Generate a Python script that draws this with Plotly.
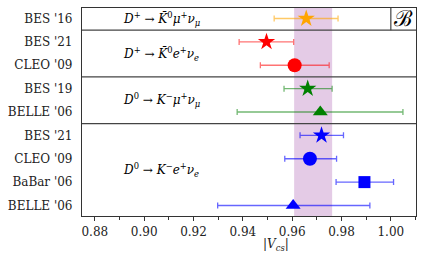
import plotly.graph_objects as go

# Data
labels = ["BES '16", "BES '21", "CLEO '09", "BES '19", "BELLE '06",
          "BES '21", "CLEO '09", "BaBar '06", "BELLE '06"]
vcs = [0.9657, 0.9496, 0.9610, 0.9663, 0.9714, 0.9719, 0.9672, 0.9893, 0.9604]
err_lo = [0.0130, 0.0111, 0.0139, 0.0096, 0.0337, 0.0087, 0.0102, 0.0115, 0.0306]
err_hi = [0.0129, 0.0110, 0.0140, 0.0099, 0.0335, 0.0089, 0.0108, 0.0118, 0.0311]
marker_symbols = ["star", "star", "circle", "star", "triangle-up",
                  "star", "circle", "square", "triangle-up"]
marker_colors = ["orange", "red", "red", "green", "green",
                 "blue", "blue", "blue", "blue"]
err_colors = ["rgba(255,165,0,0.6)", "rgba(255,0,0,0.55)", "rgba(255,0,0,0.55)",
              "rgba(0,128,0,0.55)", "rgba(0,128,0,0.55)",
              "rgba(0,0,255,0.6)", "rgba(0,0,255,0.6)", "rgba(0,0,255,0.6)", "rgba(0,0,255,0.6)"]
marker_sizes = [13, 13, 14, 13, 13, 13, 14, 12, 13]
band = [0.9608, 0.9762]
channels = ["<i>D</i><sup>+</sup> → <i>K̄</i><sup>0</sup><i>μ</i><sup>+</sup><i>ν<sub>μ</sub></i>",
            "<i>D</i><sup>+</sup> → <i>K̄</i><sup>0</sup><i>e</i><sup>+</sup><i>ν<sub>e</sub></i>",
            "<i>D</i><sup>0</sup> → <i>K</i><sup>−</sup><i>μ</i><sup>+</sup><i>ν<sub>μ</sub></i>",
            "<i>D</i><sup>0</sup> → <i>K</i><sup>−</sup><i>e</i><sup>+</sup><i>ν<sub>e</sub></i>"]
channel_rows = [0, 1.5, 3.5, 6.5]
separators = [0.5, 2.5, 4.5]
xticks = [0.88, 0.90, 0.92, 0.94, 0.96, 0.98, 1.00]

rows = list(range(len(labels)))
FONT = "DejaVu Serif"

fig = go.Figure()
fig.add_vrect(x0=band[0], x1=band[1], fillcolor="rgba(190,130,195,0.42)",
              line_width=0, layer="below")

for i in rows:
    fig.add_trace(go.Scatter(
        x=[vcs[i]], y=[i], mode="markers",
        marker=dict(symbol=marker_symbols[i], color=marker_colors[i],
                    size=marker_sizes[i], line=dict(width=0)),
        error_x=dict(type="data", symmetric=False, array=[err_hi[i]],
                     arrayminus=[err_lo[i]], color=err_colors[i],
                     thickness=1.3, width=3),
        showlegend=False))

for s in separators:
    fig.add_shape(type="line", xref="paper", x0=0, x1=1, yref="y", y0=s, y1=s,
                  line=dict(color="#444444", width=1.2))

fig.add_shape(type="line", xref="x", x0=1.0, x1=1.0, yref="y", y0=-0.45, y1=0.5,
              line=dict(color="#444444", width=1.2))
fig.add_annotation(x=1.005, y=0, xref="x", yref="y", text="ℬ",
                   showarrow=False, font=dict(family=FONT, size=22, color="black"))

for t, r in zip(channels, channel_rows):
    fig.add_annotation(x=0.8905, y=r, xref="x", yref="y", text=t, xanchor="left",
                       showarrow=False, font=dict(family=FONT, size=12, color="black"))

fig.add_annotation(x=0.9535, y=0, xref="x", yref="paper", yanchor="top", yshift=-19,
                   text="|<i>V<sub>cs</sub></i>|", showarrow=False,
                   font=dict(family=FONT, size=12, color="#222"))

fig.update_layout(
    width=424, height=262,
    margin=dict(l=82, r=8, t=8, b=46, autoexpand=False),
    plot_bgcolor="white", paper_bgcolor="white",
    font=dict(family=FONT, size=12, color="#222"),
    xaxis=dict(range=[0.8748, 1.0102], tickvals=xticks,
               ticktext=[f"{v:.2f}" for v in xticks],
               ticks="outside", ticklen=4, tickcolor="#333",
               minor=dict(dtick=0.01, tick0=0.87, ticks="outside", ticklen=3, tickcolor="#333"),
               showgrid=False, zeroline=False, showline=True, linecolor="#333",
               linewidth=1.2, mirror=True, automargin=False),
    yaxis=dict(range=[8.45, -0.45], tickvals=rows, ticktext=labels,
               ticks="", showgrid=False, zeroline=False, showline=True,
               linecolor="#333", linewidth=1.2, mirror=True, ticklabelstandoff=6,
               automargin=False),
)

fig.write_html("out.html", config={"displayModeBar": False},
               post_script="document.body.style.margin='0px';")
